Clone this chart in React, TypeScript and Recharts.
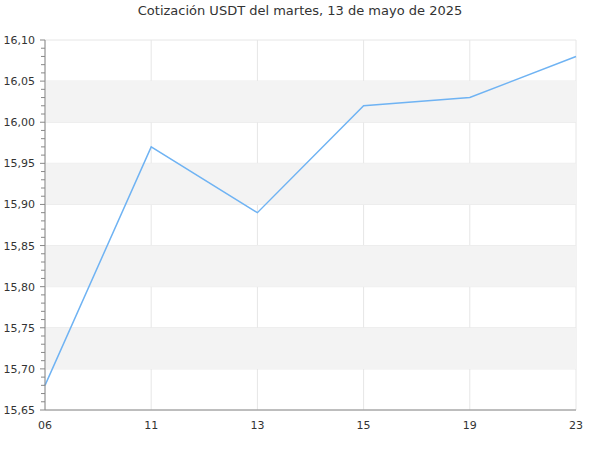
import React from "react";
import {
  LineChart,
  Line,
  XAxis,
  YAxis,
  CartesianGrid,
  ReferenceArea,
} from "recharts";

const hours = ["06", "11", "13", "15", "19", "23"];
const prices = [15.68, 15.97, 15.89, 16.02, 16.03, 16.08];
const majorTicks = [15.65, 15.7, 15.75, 15.8, 15.85, 15.9, 15.95, 16.0, 16.05, 16.1];
const bands = [
  [15.7, 15.75],
  [15.8, 15.85],
  [15.9, 15.95],
  [16.0, 16.05],
];

// minor ticks every 0.01
const allTicks: number[] = [];
for (let i = 1565; i <= 1610; i++) allTicks.push(i / 100);

const data = hours.map((h, i) => ({ hour: h, price: prices[i] }));

const FONT = "DejaVu Sans, sans-serif";
const fmt = (v: number) => v.toFixed(2).replace(".", ",");

function YTick(props: any) {
  const { x, y, payload } = props;
  const v = payload.value as number;
  const major = Math.round(v * 100) % 5 === 0;
  return (
    <g>
      <line x1={x - (major ? 5 : 4)} x2={x} y1={y} y2={y} stroke="#888" />
      {major && (
        <text
          x={x - 10}
          y={y}
          dy={4}
          textAnchor="end"
          fontSize={11}
          fontFamily={FONT}
          fill="#333"
        >
          {fmt(v)}
        </text>
      )}
    </g>
  );
}

function XTick(props: any) {
  const { x, y, payload } = props;
  return (
    <text
      x={x}
      y={y}
      dy={17}
      textAnchor="middle"
      fontSize={11}
      fontFamily={FONT}
      fill="#333"
    >
      {payload.value}
    </text>
  );
}

export default function App() {
  return (
    <div style={{ position: "absolute", left: 0, top: 0, width: 600, height: 450, background: "#fff" }}>
      <div
        style={{
          position: "absolute",
          top: 3,
          left: 0,
          width: 600,
          textAlign: "center",
          fontFamily: FONT,
          fontSize: 13,
          color: "#333",
        }}
      >
        Cotización USDT del martes, 13 de mayo de 2025
      </div>
      <LineChart
        width={600}
        height={450}
        data={data}
        margin={{ top: 40, right: 24, bottom: 0, left: 0 }}
      >
        {bands.map(([a, b]) => (
          <ReferenceArea key={a} y1={a} y2={b} fill="#f3f3f3" fillOpacity={1} stroke="none" />
        ))}
        <CartesianGrid stroke="#e6e6e6" horizontalValues={majorTicks} />
        <XAxis
          dataKey="hour"
          height={40}
          tickLine={false}
          tickSize={0}
          stroke="#888"
          tick={<XTick />}
          interval={0}
        />
        <YAxis
          width={45}
          domain={[15.65, 16.1]}
          ticks={allTicks}
          interval={0}
          tickLine={false}
          tickSize={0}
          tickMargin={0}
          stroke="#888"
          tick={<YTick />}
        />
        <Line
          type="linear"
          dataKey="price"
          stroke="#6fb3f3"
          strokeWidth={1.5}
          dot={false}
          isAnimationActive={false}
        />
      </LineChart>
    </div>
  );
}
